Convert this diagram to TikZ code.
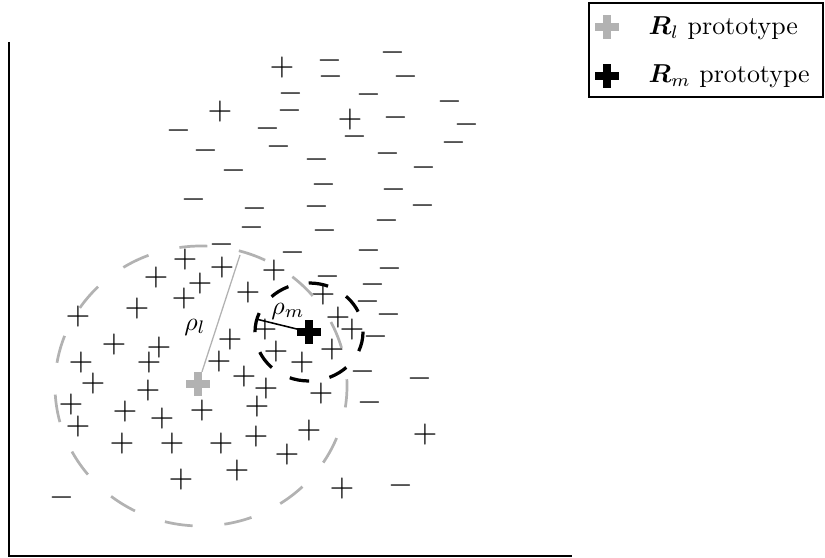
\documentclass[tikz,border=0pt]{standalone}
\usepackage{bm}
\usepackage{graphicx}
\definecolor{protogray}{gray}{0.70}
% class symbols, slightly enlarged
\newcommand\possign{\scalebox{1.23}{$+$}}
\newcommand\negsign{\scalebox{1.23}{$-$}}
% a heavy cross marking a prototype: name, position, colour
\newcommand\protocross[3]{%
  \node[protobox] (#1) at (#2) {};
  \fill[#3] ([xshift=-1.45pt]#1.north) rectangle ([xshift=1.45pt]#1.south);
  \fill[#3] ([yshift=-1.45pt]#1.west) rectangle ([yshift=1.45pt]#1.east);
}
\begin{document}
\begin{tikzpicture}[x=0.386pt,y=-0.386pt,
  possym/.style={inner sep=0pt},
  negsym/.style={inner sep=0pt},
  protobox/.style={inner sep=0pt, minimum size=9pt},
  axisline/.style={line width=0.8pt},
  bigball/.style={protogray, line width=1.05pt, dash pattern=on 10.8pt off 12.32pt, dash phase=2.5pt},
  smallball/.style={black, line width=1.25pt, dash pattern=on 7.6pt off 8pt},
  bigradius/.style={protogray, line width=0.5pt},
  smallradius/.style={black, line width=0.6pt},
  legendframe/.style={line width=0.6pt}
]
\useasboundingbox (0,0) rectangle (825,558);

% axes
\coordinate (ytop) at (9,42);
\coordinate (orig) at (9,556);
\coordinate (xend) at (572,556);
\draw[axisline] (ytop) -- (orig) -- (xend);

% negative samples
\foreach \x/\y [count=\i] in {
  330/61, 393/53, 331/77, 406/77, 291/94, 369/95, 450/102, 290/111,
  396/118, 467/125, 179/131, 268/129, 355/137, 454/143, 206/151, 279/147,
  317/160, 388/154, 234/171, 424/168, 324/185, 394/190, 194/200, 255/209,
  317/207, 423/206, 252/228, 325/231, 387/221, 222/245, 293/253, 369/251,
  390/269, 328/277, 373/285, 368/302, 389/315, 376/337, 363/372, 420/379,
  370/403, 401/486, 62/498}
  \node[negsym] (n\i) at (\x,\y) {\negsign};

% positive samples
\foreach \x/\y [count=\i] in {
  282/68, 220/112, 350/120,
  185/260, 222/268, 274/271, 156/278, 200/284, 248/293, 184/299, 137/309,
  78/317, 323/295,
  230/340, 114/345, 159/348, 338/318, 352/330, 265/330,
  81/363, 149/363, 219/362, 332/350, 276/352, 302/363,
  93/384, 244/377, 148/391, 266/389, 321/394,
  71/405, 125/412, 162/419, 202/411, 257/407,
  78/427, 309/431, 425/435,
  122/444, 172/444, 221/444, 256/437,
  287/455, 237/471, 181/480, 342/489}
  \node[possym] (p\i) at (\x,\y) {\possign};

% large prototype and its ball
\coordinate (ballL) at (201,386);
\draw[bigball] (ballL) ellipse [x radius=146, y radius=140];
\coordinate (rimL) at (240,255);
\protocross{Rl}{198,384}{protogray}
\draw[bigradius] (Rl) -- (rimL);
\node (rhoL) at (195,327) {$\rho_l$};

% small prototype and its ball
\coordinate (ballM) at (309,332);
\draw[smallball] (ballM) ellipse [x radius=54, y radius=49];
\coordinate (rimM) at (256,319);
\draw[smallradius] (ballM) -- (rimM);
\protocross{Rm}{309,332}{black}
\node (rhoM) at (288,311) {$\rho_m$};

% legend
\draw[legendframe] (589,3) rectangle (823,97);
\protocross{keyL}{607,27}{protogray}
\protocross{keyM}{607,76}{black}
\node[anchor=base west, inner sep=0pt] (txtL) at (648,35) {$\bm{R}_l$ prototype};
\node[anchor=base west, inner sep=0pt] (txtM) at (648,83) {$\bm{R}_m$ prototype};
\end{tikzpicture}
\end{document}
